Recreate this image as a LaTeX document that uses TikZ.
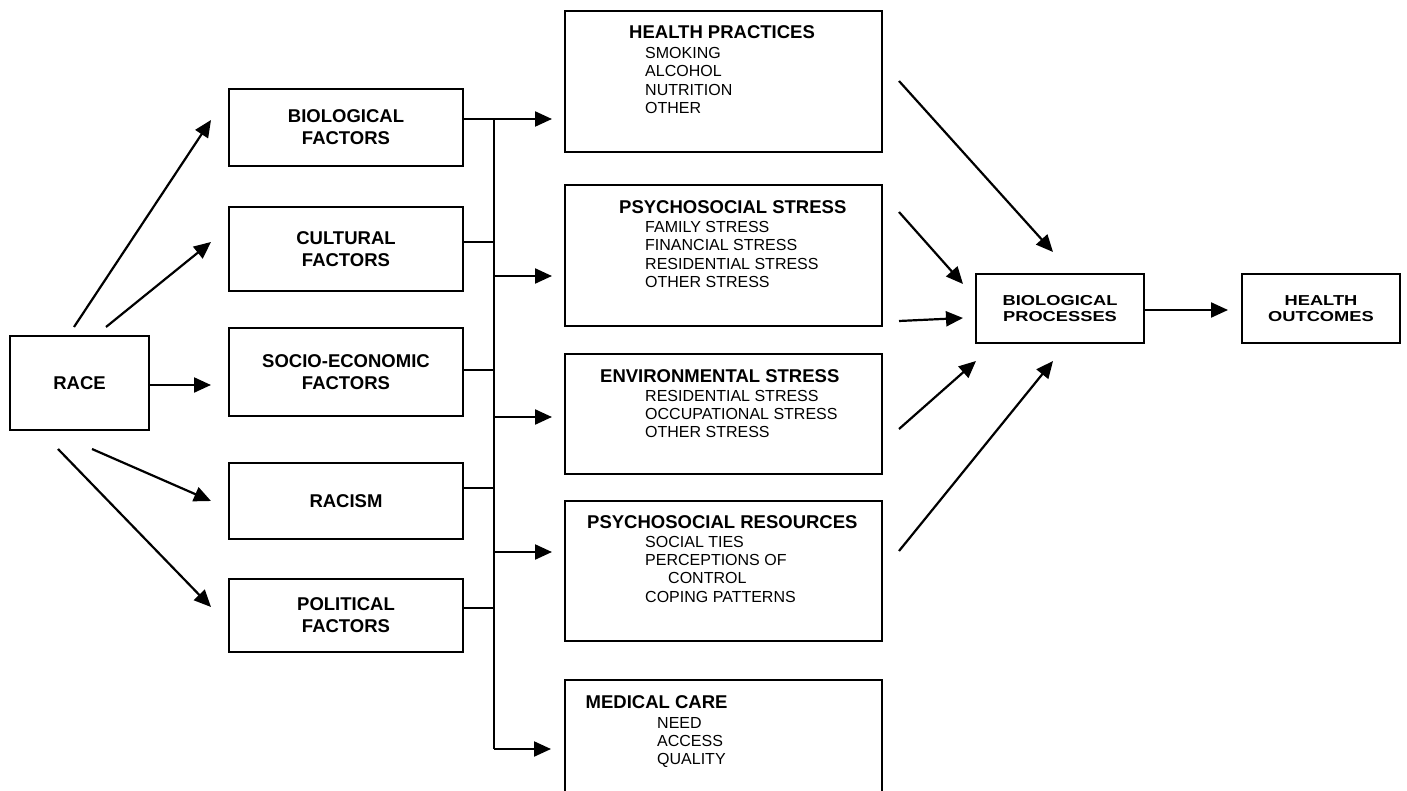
\documentclass[tikz,border=0pt]{standalone}
\usepackage{fontspec}
\setmainfont{Liberation Sans}
\newfontfamily\widefont[FakeStretch=1.27]{Liberation Sans}
\usetikzlibrary{arrows.meta}
\begin{document}
\begin{tikzpicture}[x=1pt,y=-1pt,
  box/.style={draw, line width=1.9pt, rectangle, inner sep=0pt},
  ln/.style={line width=2.2pt},
  arr/.style={line width=2.2pt, -{Triangle[length=17pt,width=15pt]}},
  lbl/.style={font=\fontsize{18.5}{22}\selectfont\bfseries, align=center},
  ttl/.style={font=\fontsize{18.5}{22}\selectfont\bfseries, anchor=base west, inner sep=0pt},
  itm/.style={font=\fontsize{16}{18.4}\selectfont, anchor=base west, inner sep=0pt},
  wide/.style={font=\widefont\bfseries\fontsize{14.4}{15.5}\selectfont, align=center}
]
\useasboundingbox (0,0) rectangle (1407,791);
\clip (0,0) rectangle (1407,791);

% left column
\node[box, lbl, minimum width=139, minimum height=94] (race) at (79.5,383) {RACE};
\node[box, lbl, minimum width=234, minimum height=77] (bio) at (346,127.5) {BIOLOGICAL\\FACTORS};
\node[box, lbl, minimum width=234, minimum height=84] (cult) at (346,249) {CULTURAL\\FACTORS};
\node[box, lbl, minimum width=234, minimum height=88] (socio) at (346,372) {SOCIO-ECONOMIC\\FACTORS};
\node[box, lbl, minimum width=234, minimum height=76] (racism) at (346,501) {RACISM};
\node[box, lbl, minimum width=234, minimum height=73] (pol) at (346,615.5) {POLITICAL\\FACTORS};

% middle column boxes
\node[box, minimum width=317, minimum height=141] (hp) at (723.5,81.5) {};
\node[box, minimum width=317, minimum height=141] (ps) at (723.5,255.5) {};
\node[box, minimum width=317, minimum height=120] (es) at (723.5,414) {};
\node[box, minimum width=317, minimum height=140] (pr) at (723.5,571) {};
\node[box, minimum width=317, minimum height=140] (mc) at (723.5,750) {};

% middle column texts
\node[ttl] (hp-t) at (629,39) {HEALTH PRACTICES};
\node[itm] (hp-1) at (645,58.4) {SMOKING};
\node[itm] (hp-2) at (645,76.8) {ALCOHOL};
\node[itm] (hp-3) at (645,95.2) {NUTRITION};
\node[itm] (hp-4) at (645,113.6) {OTHER};

\node[ttl] (ps-t) at (619,213.3) {PSYCHOSOCIAL STRESS};
\node[itm] (ps-1) at (645,232.4) {FAMILY STRESS};
\node[itm] (ps-2) at (645,250.8) {FINANCIAL STRESS};
\node[itm] (ps-3) at (645,269.2) {RESIDENTIAL STRESS};
\node[itm] (ps-4) at (645,287.6) {OTHER STRESS};

\node[ttl] (es-t) at (600,382) {ENVIRONMENTAL STRESS};
\node[itm] (es-1) at (645,401) {RESIDENTIAL STRESS};
\node[itm] (es-2) at (645,419.4) {OCCUPATIONAL STRESS};
\node[itm] (es-3) at (645,437.8) {OTHER STRESS};

\node[ttl] (pr-t) at (587,528) {PSYCHOSOCIAL RESOURCES};
\node[itm] (pr-1) at (645,547) {SOCIAL TIES};
\node[itm] (pr-2) at (645,565.4) {PERCEPTIONS OF};
\node[itm] (pr-3) at (668,583.8) {CONTROL};
\node[itm] (pr-4) at (645,602.2) {COPING PATTERNS};

\node[ttl] (mc-t) at (585.5,708.3) {MEDICAL CARE};
\node[itm] (mc-1) at (657,728) {NEED};
\node[itm] (mc-2) at (657,746.4) {ACCESS};
\node[itm] (mc-3) at (657,764.8) {QUALITY};

% right boxes
\node[box, wide, minimum width=168, minimum height=69] (bp) at (1060,308.5) {BIOLOGICAL\\PROCESSES};
\node[box, wide, minimum width=158, minimum height=69] (ho) at (1321,308.5) {HEALTH\\OUTCOMES};

% arrow end points
\coordinate (r1s) at (74,327);  \coordinate (r1e) at (211,120);
\coordinate (r2s) at (106,327); \coordinate (r2e) at (211,242);
\coordinate (r3e) at (211,385);
\coordinate (r4s) at (92,449);  \coordinate (r4e) at (211,501);
\coordinate (r5s) at (58,449);  \coordinate (r5e) at (211,607);

\coordinate (busT) at (494,119);
\coordinate (bus2) at (494,276);
\coordinate (bus3) at (494,417);
\coordinate (bus4) at (494,552);
\coordinate (busB) at (494,749);
\coordinate (m1) at (552,119);
\coordinate (m2) at (552,276);
\coordinate (m3) at (552,417);
\coordinate (m4) at (552,552);
\coordinate (m5) at (551,749);

\coordinate (b1s) at (899,81);  \coordinate (b1e) at (1053,252);
\coordinate (b2s) at (899,212); \coordinate (b2e) at (963,284);
\coordinate (b3s) at (899,321); \coordinate (b3e) at (963,318);
\coordinate (b4s) at (899,429); \coordinate (b4e) at (976,361);
\coordinate (b5s) at (899,551); \coordinate (b5e) at (1053,361);
\coordinate (hoe) at (1228,310);

% race arrows
\draw[arr] (r1s) -- (r1e);
\draw[arr] (r2s) -- (r2e);
\draw[arr] ([yshift=-2pt]race.east) -- (r3e);
\draw[arr] (r4s) -- (r4e);
\draw[arr] (r5s) -- (r5e);

% stubs to bus
\draw[ln] ([yshift=8.5pt]bio.east) -- ++(31,0);
\draw[ln] ([yshift=7pt]cult.east) -- ++(31,0);
\draw[ln] ([yshift=2pt]socio.east) -- ++(31,0);
\draw[ln] ([yshift=13pt]racism.east) -- ++(31,0);
\draw[ln] ([yshift=7.5pt]pol.east) -- ++(31,0);
\draw[ln] (busT) -- (busB);

% bus arrows
\draw[arr] (busT) -- (m1);
\draw[arr] (bus2) -- (m2);
\draw[arr] (bus3) -- (m3);
\draw[arr] (bus4) -- (m4);
\draw[arr] (busB) -- (m5);

% into biological processes
\draw[arr] (b1s) -- (b1e);
\draw[arr] (b2s) -- (b2e);
\draw[arr] (b3s) -- (b3e);
\draw[arr] (b4s) -- (b4e);
\draw[arr] (b5s) -- (b5e);
\draw[arr] ([yshift=-1.5pt]bp.east) -- (hoe);
\end{tikzpicture}
\end{document}
